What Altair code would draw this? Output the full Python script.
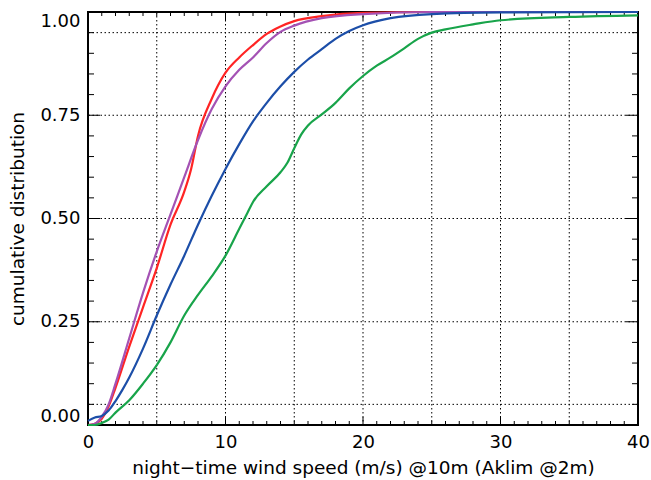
import altair as alt
import pandas as pd

# Cumulative distributions of night-time wind speed (m/s)
red_x = [0, 0.5, 1, 1.5, 2, 3, 4, 5, 6, 7, 7.5, 8, 9, 10, 11, 12, 13, 14, 15, 17, 20, 25, 40]
red_y = [0.0, 0.003, 0.015, 0.045, 0.09, 0.19, 0.285, 0.38, 0.485, 0.565, 0.62, 0.70, 0.79, 0.853,
         0.89, 0.92, 0.947, 0.965, 0.978, 0.99, 0.998, 1.0, 1.0]

purple_x = [0, 0.5, 1, 1.5, 2, 3, 4, 5, 6, 7, 8, 9, 10, 11, 12, 13, 14, 15, 17, 20, 25, 40]
purple_y = [0.0, 0.003, 0.02, 0.05, 0.10, 0.21, 0.32, 0.42, 0.51, 0.60, 0.69, 0.765, 0.82, 0.86,
            0.89, 0.925, 0.952, 0.967, 0.985, 0.995, 1.0, 1.0]

blue_x = [0, 0.5, 1, 1.5, 2, 2.5, 3, 4, 5, 6, 7, 8, 9, 10, 11, 12, 13, 14, 15, 16, 17, 18, 19,
          20, 22, 25, 30, 40]
blue_y = [0.01, 0.018, 0.022, 0.035, 0.058, 0.085, 0.115, 0.185, 0.265, 0.34, 0.41, 0.485,
          0.555, 0.62, 0.68, 0.735, 0.78, 0.82, 0.855, 0.885, 0.91, 0.935, 0.954, 0.968, 0.985,
          0.995, 0.999, 1.0]

green_x = [0, 0.5, 1, 1.5, 2, 3, 4, 5, 6, 7, 8, 9, 10, 11, 11.6, 12, 13, 14, 14.5, 15, 15.5,
           16, 17, 18, 19, 20, 21, 22, 23, 24, 25, 26, 28, 30, 35, 40]
green_y = [0.0, 0.0, 0.005, 0.013, 0.03, 0.06, 0.10, 0.145, 0.20, 0.265, 0.315, 0.36, 0.41,
           0.475, 0.514, 0.54, 0.578, 0.612, 0.635, 0.67, 0.703, 0.725, 0.752, 0.78, 0.815,
           0.845, 0.87, 0.89, 0.912, 0.935, 0.95, 0.958, 0.97, 0.98, 0.988, 0.992]

series = ["red", "purple", "blue", "green"]
colors = ["#ff2424", "#a452b4", "#1c4ea8", "#18a44a"]

# Reference grid and tick positions
grid_x = [5, 10, 15, 20, 25, 30, 35]
grid_y = [0.05, 0.25, 0.5, 0.75, 0.95]
x_major = [0, 10, 20, 30, 40]
x_minor = [v for v in range(0, 41) if v % 10 != 0]
y_major = [0.0, 0.25, 0.5, 0.75, 1.0]
y_minor = [round(0.05 * i, 2) for i in range(21) if i % 5 != 0]

W, H = 550, 413
FONT = "DejaVu Sans"

rows = []
for name, xs, ys in [("red", red_x, red_y), ("purple", purple_x, purple_y),
                     ("blue", blue_x, blue_y), ("green", green_x, green_y)]:
    for i, (a, b) in enumerate(zip(xs, ys)):
        rows.append({"series": name, "speed": a, "cdf": b, "order": i})
df = pd.DataFrame(rows)

xscale = alt.Scale(domain=[0, 40], nice=False, zero=False)
yscale = alt.Scale(domain=[0, 1], nice=False, zero=False)

# One axis definition shared by every layer so the merged axes stay intact
xaxis = alt.Axis(values=x_major, format="d", ticks=False, grid=False, domain=False,
                 labelFlush=False,
                 title="night\u2212time wind speed (m/s) @10m (Aklim @2m)",
                 labelPadding=8, titlePadding=7)
yaxis = alt.Axis(values=y_major, format=".2f", ticks=False, grid=False, domain=False,
                 labelFlush=True, title="cumulative distribution",
                 labelPadding=8, titlePadding=12)


def X(field="speed"):
    return alt.X(f"{field}:Q", scale=xscale, axis=xaxis)


def Y(field="cdf"):
    return alt.Y(f"{field}:Q", scale=yscale, axis=yaxis)


dot = [1.5, 2.5]

vgrid = alt.Chart(pd.DataFrame({"speed": grid_x})).mark_rule(
    color="black", strokeWidth=1, strokeDash=dot
).encode(x=X())

hgrid = alt.Chart(pd.DataFrame({"cdf": grid_y})).mark_rule(
    color="black", strokeWidth=1, strokeDash=dot
).encode(y=Y())

lines = alt.Chart(df).mark_line(strokeWidth=2.2, interpolate="monotone").encode(
    x=X(),
    y=Y(),
    color=alt.Color("series:N", scale=alt.Scale(domain=series, range=colors), legend=None),
    order="order:Q",
)


def xticks(values, length):
    d = pd.DataFrame({"speed": values})
    bottom = alt.Chart(d).mark_rule(color="black", strokeWidth=1).encode(
        x=X(), y=alt.value(H), y2=alt.value(H - length))
    top = alt.Chart(d).mark_rule(color="black", strokeWidth=1).encode(
        x=X(), y=alt.value(0), y2=alt.value(length))
    return [bottom, top]


def yticks(values, length):
    d = pd.DataFrame({"cdf": values})
    left = alt.Chart(d).mark_rule(color="black", strokeWidth=1).encode(
        y=Y(), x=alt.value(0), x2=alt.value(length))
    right = alt.Chart(d).mark_rule(color="black", strokeWidth=1).encode(
        y=Y(), x=alt.value(W), x2=alt.value(W - length))
    return [left, right]


chart = alt.layer(
    vgrid, hgrid,
    *xticks(x_minor, 4), *xticks(x_major, 8),
    *yticks(y_minor, 6), *yticks(y_major, 12),
    lines,
).properties(
    width=W, height=H,
    background="white",
    autosize=alt.AutoSizeParams(type="none"),
    padding={"left": 88, "top": 12, "right": 13, "bottom": 55},
).configure_view(
    stroke="black", strokeWidth=2
).configure_axis(
    labelFont=FONT, titleFont=FONT, labelFontSize=18, titleFontSize=18.5,
    labelColor="black", titleColor="black", titleFontWeight="normal",
)

chart.save("out.html", embed_options={"renderer": "svg", "actions": False})
